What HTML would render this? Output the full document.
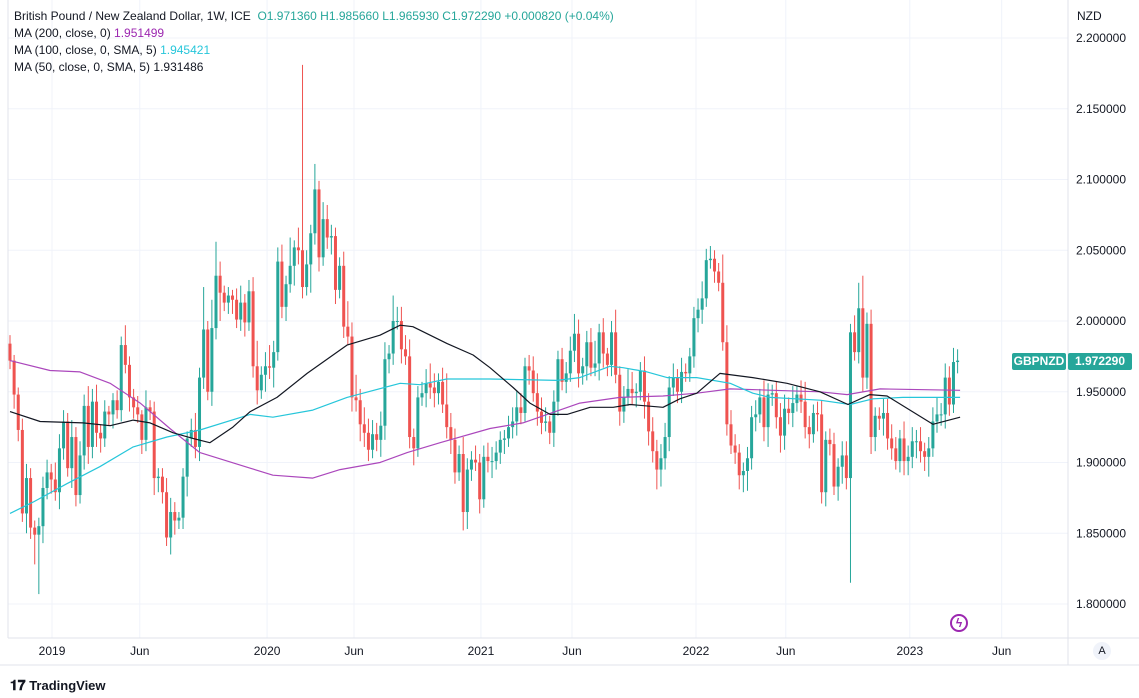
<!DOCTYPE html>
<html><head><meta charset="utf-8">
<style>
body{margin:0;background:#fff;font-family:"Liberation Sans",sans-serif;}
#wrap{position:relative;width:1139px;height:698px;overflow:hidden;background:#fff;}
.hdr{position:absolute;left:14px;font-size:12px;color:#131722;white-space:nowrap;}
</style></head>
<body>
<div id="wrap">
<svg id="chart" width="1139" height="698" style="position:absolute;left:0;top:0"></svg>
<div class="hdr" style="top:9px">British Pound / New Zealand Dollar, 1W, ICE &nbsp;<span style="color:#26a69a">O1.971360 H1.985660 L1.965930 C1.972290 +0.000820 (+0.04%)</span></div>
<div class="hdr" style="top:26px">MA (200, close, 0) <span style="color:#9c27b0">1.951499</span></div>
<div class="hdr" style="top:43px">MA (100, close, 0, SMA, 5) <span style="color:#26c6da">1.945421</span></div>
<div class="hdr" style="top:60px">MA (50, close, 0, SMA, 5) <span style="color:#131722">1.931486</span></div>
<div style="position:absolute;left:1077px;top:9px;font-size:12px;color:#131722">NZD</div>
<div style="position:absolute;left:1012px;top:353px;width:54px;height:17px;background:#26a69a;color:#fff;font-size:12px;font-weight:bold;line-height:17px;text-align:center;border-radius:2px">GBPNZD</div>
<div style="position:absolute;left:1068px;top:353px;width:64px;height:17px;background:#26a69a;color:#fff;font-size:12px;font-weight:bold;line-height:17px;text-align:center;border-radius:2px">1.972290</div>
<div style="position:absolute;left:1093px;top:642px;width:18px;height:18px;border-radius:50%;background:#f0f3fa;color:#131722;font-size:11px;line-height:18px;text-align:center">A</div>
<div style="position:absolute;left:950px;top:614px;width:18px;height:18px;border-radius:50%;border:2px solid #9c27b0;color:#9c27b0;font-size:12px;line-height:15px;text-align:center;box-sizing:border-box;font-weight:bold">ϟ</div>
<div style="position:absolute;left:10px;top:677px;font-size:13px;color:#131722;font-weight:bold"><span style="font-size:14px">𝟏𝟕</span> TradingView</div>
</div>
<script>
const closes=[1.972,1.948,1.923,1.864,1.889,1.854,1.849,1.855,1.882,1.893,1.888,1.879,1.910,1.929,1.896,1.918,1.877,1.905,1.940,1.911,1.943,1.921,1.917,1.936,1.934,1.944,1.937,1.983,1.969,1.946,1.939,1.934,1.916,1.939,1.936,1.889,1.890,1.879,1.847,1.865,1.859,1.861,1.890,1.917,1.923,1.911,1.960,1.994,1.950,1.995,2.032,2.020,2.013,2.018,2.015,2.001,2.013,1.999,
2.021,1.968,1.951,1.962,1.968,1.967,1.978,2.042,2.010,2.026,2.039,2.052,2.050,2.024,2.040,2.062,2.093,2.045,2.072,2.059,2.060,2.022,2.039,1.996,1.989,1.946,1.944,1.927,1.921,1.909,1.920,1.916,1.926,1.973,1.977,2.000,2.000,1.980,1.975,1.918,1.910,1.946,1.949,1.956,1.953,1.949,1.957,1.941,1.925,1.916,1.893,1.906,1.865,1.895,1.902,1.900,1.874,1.904,
1.901,1.901,1.907,1.916,1.917,1.925,1.929,1.939,1.935,1.968,1.965,1.949,1.936,1.928,1.929,1.921,1.943,1.973,1.957,1.963,1.979,1.991,1.963,1.968,1.985,1.967,1.970,1.992,1.977,1.969,1.992,1.962,1.936,1.946,1.952,1.949,1.950,1.965,1.943,1.922,1.908,1.895,1.903,1.918,1.953,1.960,1.950,1.964,1.963,1.975,2.002,2.008,2.016,2.043,2.044,2.035,2.027,
1.985,1.927,1.912,1.907,1.891,1.894,1.903,1.932,1.934,1.946,1.925,1.948,1.949,1.932,1.919,1.938,1.935,1.942,1.948,1.943,1.925,1.920,1.935,1.934,1.879,1.916,1.913,1.883,1.897,1.905,1.889,1.992,1.978,2.009,1.960,1.998,1.918,1.933,1.931,1.935,1.917,1.910,1.901,1.917,1.901,1.904,1.915,1.915,1.908,1.904,1.910,1.929,1.934,1.934,1.960,1.941,1.971,1.972];
const firstOpen=1.984;
const upWick=[6,4,5,8,10,7,5,6,8,9,6,12,10,8,6,12,7,10,8,14,9,12,6,8,4,5,7,6,14,6,6,8,3,12,5,7,6,6,10,10,7,4,6,5,8,12,7,30,6,20,24,10,5,6,4,8,12,6,8,10,18,6,10,15,8,10,12,6,20,5,14,131,10,6,18,6,12,10,8,6,6,10,18,10,16,8,12,10,10,8,10,12,6,18,10,10,10,12,6,8,8,10,14,10,6,10,22,10,8,6,12,8,6,10,6,8,10,10,8,6,6,8,10,12,10,6,8,10,14,10,10,4,8,6,8,8,10,14,10,6,8,10,16,6,10,4,8,16,6,8,14,12,6,6,10,6,10,8,10,10,8,10,6,10,6,6,8,8,12,8,9,6,6,20,12,10,8,6,6,8,8,10,6,12,8,6,8,10,10,8,12,6,10,14,8,6,8,10,6,8,8,6,10,10,6,12,18,23,8,10,6,6,10,10,10,8,6,12,8,10,8,10,6,8,10,12,8,10,8,10,8,12,10,8,14,14];
const dnWick=[6,10,8,6,14,8,21,42,12,8,10,6,12,8,6,14,8,6,10,12,8,10,10,6,8,10,6,8,6,10,8,6,10,8,6,12,10,8,6,12,10,6,8,14,6,8,10,8,6,10,8,20,6,8,10,6,8,10,6,8,10,6,12,8,14,6,8,10,6,14,10,8,6,20,8,10,6,8,12,10,6,8,6,10,8,12,10,8,6,8,12,10,10,8,6,10,6,8,12,6,6,10,8,10,8,6,8,10,8,6,13,12,8,6,10,6,8,12,6,8,10,6,8,10,8,6,10,6,10,8,6,8,10,10,6,8,6,8,10,8,10,6,6,12,10,8,8,6,10,8,6,8,10,6,12,10,8,14,12,8,10,6,8,8,6,6,8,10,10,6,6,8,6,6,8,6,8,10,12,14,8,10,6,10,14,8,8,12,10,8,10,6,8,8,10,6,12,8,10,8,6,10,12,8,74,6,8,10,8,12,10,8,12,8,8,6,8,10,10,8,12,8,10,14,6,8,8,10,8,6,8,8];
const ma200Weeks=[0,9.7,17,24.3,31.6,38.8,46.1,58.3,63.8,73.5,80.1,89.8,96.4,104.4,116.5,124.5,138.3,148,158.5,166.7,174.8,196.6,203.2,211.2,230.6];
const ma200Vals=[1.972,1.965,1.964,1.956,1.942,1.924,1.907,1.896,1.891,1.889,1.895,1.900,1.907,1.914,1.924,1.928,1.942,1.946,1.947,1.949,1.952,1.950,1.948,1.952,1.951];
const ma100Weeks=[0,5.6,13.8,21.8,29.9,38.1,46.1,58.3,63.8,73.5,81.8,94.7,99.5,106,116.5,132.8,138.3,145.6,148.8,154.6,159.5,166.7,174.8,180.3,184.5,196.6,203.9,209.5,216.7,230.6];
const ma100Vals=[1.864,1.872,1.885,1.897,1.911,1.918,1.923,1.934,1.932,1.937,1.946,1.956,1.955,1.959,1.959,1.958,1.960,1.968,1.967,1.964,1.960,1.960,1.956,1.949,1.946,1.944,1.941,1.945,1.946,1.946];
const ma50Weeks=[0,7.3,17.7,24.3,29.9,34,39.6,44.4,48.5,54.1,58.3,64.8,72.1,81.8,89.8,94.7,97.8,106.1,112.4,116.5,122.1,126.2,131.1,135.2,140.8,146.4,150.5,158.5,162.6,166.7,172.3,180.3,188.6,196.6,203.4,208.7,212.9,224,230.6];
const ma50Vals=[1.936,1.929,1.928,1.926,1.930,1.928,1.921,1.917,1.914,1.925,1.936,1.946,1.963,1.983,1.990,1.997,1.996,1.984,1.976,1.967,1.953,1.942,1.934,1.934,1.939,1.939,1.941,1.939,1.945,1.949,1.963,1.960,1.956,1.950,1.941,1.948,1.947,1.927,1.932];
const priceTicks=[1.8,1.85,1.9,1.95,2.0,2.05,2.1,2.15,2.2];
const timeLabels=["2019","Jun","2020","Jun","2021","Jun","2022","Jun","2023","Jun"];
const timeLabelWeeks=[10.2,31.5,62.4,83.5,114.3,136.4,166.5,188.3,218.4,240.7];

const NS="http://www.w3.org/2000/svg";
const svg=document.getElementById('chart');
const X=i=>10+i*4.12;
const Y=p=>38+(2.2-p)*1415;
function mk(t,a){const e=document.createElementNS(NS,t);for(const k in a)e.setAttribute(k,a[k]);svg.appendChild(e);return e;}

priceTicks.forEach(p=>{
  const g=mk('line',{x1:8,x2:1068,y1:Y(p),y2:Y(p),stroke:'#f0f3fa','stroke-width':1});
  
  
  const t=mk('text',{x:1126,y:Y(p)+4,'text-anchor':'end','font-size':12,fill:'#131722','font-family':'Liberation Sans, sans-serif'});
  t.textContent=p.toFixed(6);
  
  
});
timeLabels.forEach((l,k)=>{
  const x=X(timeLabelWeeks[k]);
  const g=mk('line',{x1:x,x2:x,y1:0,y2:638,stroke:'#f0f3fa','stroke-width':1});
  
  
  const t=mk('text',{x:x,y:655,'text-anchor':'middle','font-size':12,fill:'#131722','font-family':'Liberation Sans, sans-serif'});
  t.textContent=l;
  
  
});
[[8,0,8,638],[1068,0,1068,665],[8,638,1139,638],[0,665,1139,665]].forEach(c=>{
  const l=mk('line',{x1:c[0],y1:c[1],x2:c[2],y2:c[3],stroke:'#e0e3eb','stroke-width':1});
  
  
});

closes.forEach((c,i)=>{
  const o=i===0?firstOpen:closes[i-1];
  const uw=(upWick[i]===undefined?6:upWick[i]), dw=(dnWick[i]===undefined?6:dnWick[i]);
  const hi=Math.max(o,c)+uw/1000, lo=Math.min(o,c)-dw/1000;
  const col=c>=o?'#26a69a':'#ef5350';
  const x=X(i);
  const w=mk('line',{x1:x,x2:x,y1:Y(hi),y2:Y(lo),stroke:col,'stroke-width':1});
  
  
  const top=Y(Math.max(o,c)),bot=Y(Math.min(o,c));
  const b=mk('rect',{x:x-1.5,y:top,width:3,height:Math.max(1,bot-top),fill:col});
  
  
});
function ma(weeks,vals,color,name){
  const d=weeks.map((w,k)=>(k?'L':'M')+X(w).toFixed(1)+','+Y(vals[k]).toFixed(1)).join(' ');
  const p=mk('path',{d:d,fill:'none',stroke:color,'stroke-width':1.2,'stroke-linejoin':'round'});
  
  
}
ma(ma200Weeks,ma200Vals,'#ab47bc','ma200-line');
ma(ma100Weeks,ma100Vals,'#26c6da','ma100-line');
ma(ma50Weeks,ma50Vals,'#131722','ma50-line');
</script>
</body></html>
